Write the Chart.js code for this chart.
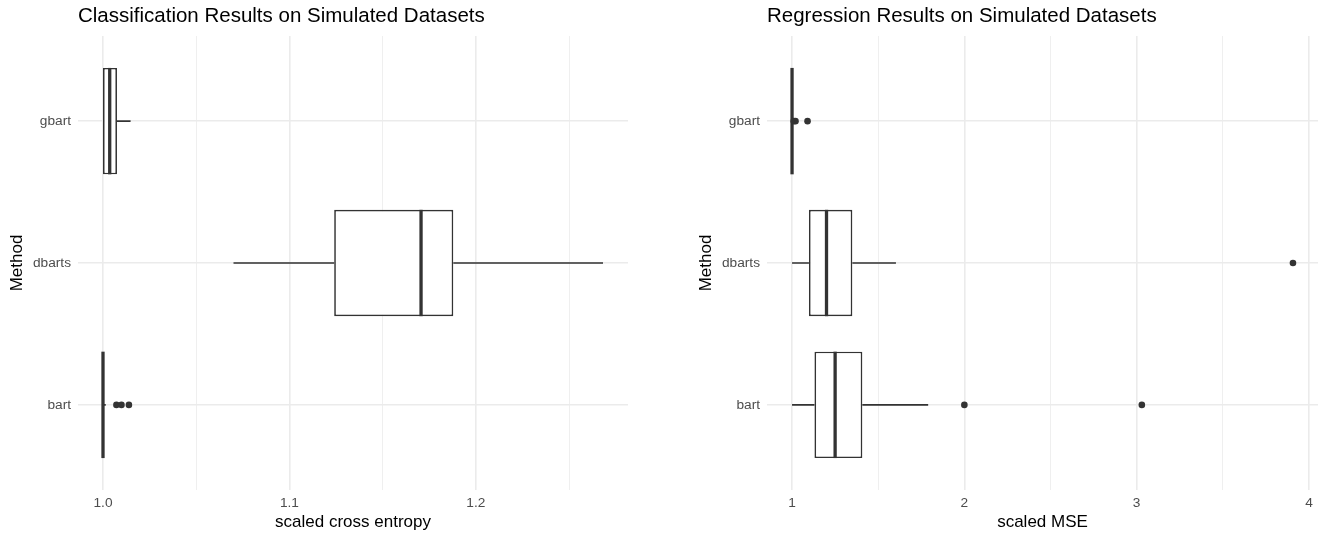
<!DOCTYPE html>
<html>
<head>
<meta charset="utf-8">
<script src="https://cdn.jsdelivr.net/npm/chart.js@4.4.0/dist/chart.umd.min.js"></script>
<style>
  body { margin: 0; background: #fff; }
  canvas { position: absolute; top: 0; }
  #ceChart { left: 0; }
  #mseChart { left: 689px; }
</style>
</head>
<body>
<canvas id="ceChart" width="628" height="533"></canvas>
<canvas id="mseChart" width="629" height="533"></canvas>
<script>
// methods, bottom to top
const methods = ['bart', 'dbarts', 'gbart'];

// classification: scaled cross entropy
const ceMin = [1.0, 1.070, 1.0];
const ceQ1 = [1.0, 1.124, 1.0];
const ceMed = [1.0, 1.1706, 1.0036];
const ceQ3 = [1.0, 1.1879, 1.0075];
const ceMax = [1.0015, 1.2682, 1.0148];
const ceOut = [[1.0072, 1.0099, 1.0139], [], []];
const ceMajor = [1.0, 1.1, 1.2];
const ceMinor = [1.05, 1.15, 1.25];

// regression: scaled MSE
const mseMin = [1.0, 1.0, 1.0];
const mseQ1 = [1.13, 1.098, 1.0];
const mseMed = [1.25, 1.20, 1.0];
const mseQ3 = [1.408, 1.35, 1.0];
const mseMax = [1.79, 1.603, 1.0];
const mseOut = [[2.0, 3.03], [3.907], [1.01, 1.02, 1.09]];
const mseMajor = [1, 2, 3, 4];
const mseMinor = [1.5, 2.5, 3.5];

const FONT = '"Liberation Sans", Arial, Helvetica, sans-serif';
const INK = '#333333';
const GRID = '#ebebeb';
const boxHalf = 0.375;

function makeChart(id, title, xTitle, s, major, minor, fmt) {
    // ggplot-like 5% expansion of the data range
    const all = [...s.min, ...s.max, ...s.out.flat()];
    const lo = Math.min(...all), hi = Math.max(...all);
    const pad = (hi - lo) * 0.05;
    const isMajor = v => major.some(m => Math.abs(m - v) < 1e-9);

    const boxParts = {
        id: 'boxParts',
        afterDatasetsDraw(chart) {
            const ctx = chart.ctx, x = chart.scales.x, y = chart.scales.y;
            ctx.save();
            ctx.strokeStyle = INK;
            ctx.fillStyle = INK;
            methods.forEach((m, i) => {
                const pos = i + 1;
                const yc = y.getPixelForValue(pos);
                const yTop = y.getPixelForValue(pos + boxHalf);
                const yBot = y.getPixelForValue(pos - boxHalf);
                // whiskers
                ctx.lineWidth = 1.7;
                ctx.beginPath();
                if (s.min[i] < s.q1[i]) {
                    ctx.moveTo(x.getPixelForValue(s.min[i]), yc);
                    ctx.lineTo(x.getPixelForValue(s.q1[i]), yc);
                }
                if (s.max[i] > s.q3[i]) {
                    ctx.moveTo(x.getPixelForValue(s.q3[i]), yc);
                    ctx.lineTo(x.getPixelForValue(s.max[i]), yc);
                }
                ctx.stroke();
                // median
                ctx.lineWidth = 3.3;
                ctx.beginPath();
                const xm = x.getPixelForValue(s.med[i]);
                ctx.moveTo(xm, yTop);
                ctx.lineTo(xm, yBot);
                ctx.stroke();
                // outliers
                s.out[i].forEach(v => {
                    ctx.beginPath();
                    ctx.arc(x.getPixelForValue(v), yc, 3.3, 0, Math.PI * 2);
                    ctx.fill();
                });
            });
            ctx.restore();
        }
    };

    return new Chart(document.getElementById(id), {
        type: 'bar',
        data: {
            datasets: [{
                data: methods.map((m, i) => ({ x: [s.q1[i], s.q3[i]], y: i + 1 })),
                backgroundColor: '#ffffff',
                borderColor: INK,
                borderWidth: 1.7,
                borderSkipped: false,
                barPercentage: 0.75,
                categoryPercentage: 1
            }]
        },
        options: {
            indexAxis: 'y',
            responsive: false,
            animation: false,
            events: [],
            layout: { padding: 0 },
            plugins: {
                legend: { display: false },
                tooltip: { enabled: false },
                title: {
                    display: true,
                    text: title,
                    align: 'start',
                    fullSize: false,
                    color: '#000000',
                    font: { family: FONT, size: 20.5, weight: 'normal' },
                    padding: { top: 4, bottom: 7.4 }
                }
            },
            scales: {
                x: {
                    type: 'linear',
                    min: lo - pad,
                    max: hi + pad,
                    afterBuildTicks: sc => {
                        sc.ticks = [...major, ...minor].sort((a, b) => a - b).map(v => ({ value: v }));
                    },
                    afterFit: sc => { sc.height = 43; },
                    border: { display: false },
                    grid: {
                        color: GRID,
                        drawTicks: false,
                        lineWidth: c => isMajor(c.tick.value) ? 1.6 : 0.8
                    },
                    ticks: {
                        autoSkip: false,
                        maxRotation: 0,
                        padding: 5,
                        color: '#4d4d4d',
                        font: { family: FONT, size: 13.7 },
                        callback: v => isMajor(v) ? fmt(v) : ''
                    },
                    title: {
                        display: true,
                        text: xTitle,
                        color: '#000000',
                        font: { family: FONT, size: 17 },
                        padding: { top: 0, bottom: 0 }
                    }
                },
                y: {
                    type: 'linear',
                    min: 0.4,
                    max: 3.6,
                    offset: false,
                    afterBuildTicks: sc => {
                        sc.ticks = methods.map((m, i) => ({ value: i + 1 }));
                    },
                    afterFit: sc => { sc.width = 78; },
                    border: { display: false },
                    grid: { color: GRID, drawTicks: false, lineWidth: 1.6, offset: false },
                    ticks: {
                        padding: 7,
                        color: '#4d4d4d',
                        font: { family: FONT, size: 13.7 },
                        callback: v => methods[Math.round(v) - 1]
                    },
                    title: {
                        display: true,
                        text: 'Method',
                        color: '#000000',
                        font: { family: FONT, size: 17 },
                        padding: { top: 7, bottom: 0 }
                    }
                }
            }
        },
        plugins: [boxParts]
    });
}

makeChart('ceChart', 'Classification Results on Simulated Datasets', 'scaled cross entropy',
    { min: ceMin, q1: ceQ1, med: ceMed, q3: ceQ3, max: ceMax, out: ceOut },
    ceMajor, ceMinor, v => v.toFixed(1));

makeChart('mseChart', 'Regression Results on Simulated Datasets', 'scaled MSE',
    { min: mseMin, q1: mseQ1, med: mseMed, q3: mseQ3, max: mseMax, out: mseOut },
    mseMajor, mseMinor, v => String(v));
</script>
</body>
</html>
